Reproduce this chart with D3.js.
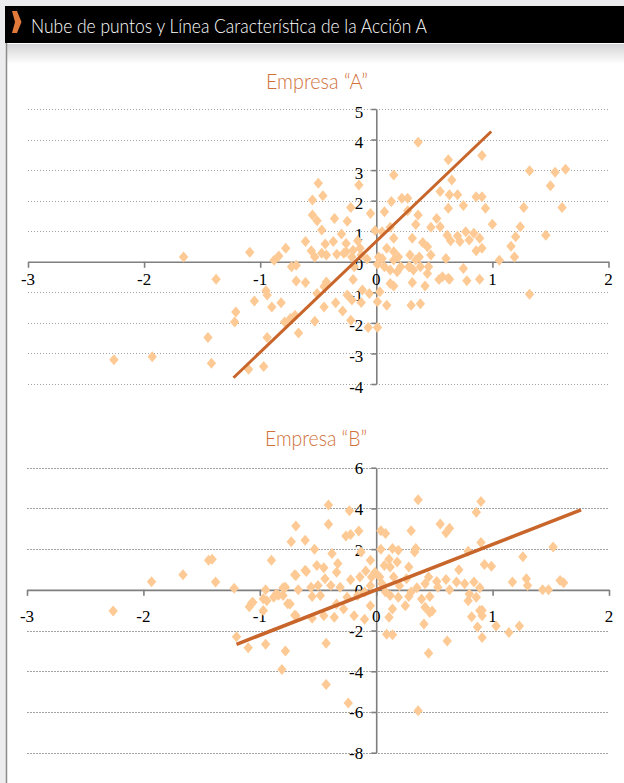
<!DOCTYPE html>
<meta charset="utf-8">
<html>
<head>
<script src="https://d3js.org/d3.v7.min.js"></script>
<style>
  body { margin: 0; background: #ececee; }
</style>
</head>
<body>
<div id="viz"></div>
<script>
// x ticks are shared by both charts
const xTicks = [-3, -2, -1, 0, 1, 2];
const yTicksA = [-4, -3, -2, -1, 0, 1, 2, 3, 4, 5];
const yTicksB = [-8, -6, -4, -2, 0, 2, 4, 6];

// trend lines: [slope, intercept, xStart, xEnd]
const trendA = [3.63, 0.67, -1.23, 0.99];
const trendB = [2.23, 0.0, -1.20, 1.76];

// Empresa "A" (market return, stock return)
const puntosA = [
  [0.36,3.91],[0.62,3.34],[0.91,3.48],[0.15,2.84],[1.32,2.98],[1.54,2.93],[1.63,3.03],[0.65,2.68],
  [-0.15,2.51],[-0.50,2.57],[1.50,2.49],[-0.55,2.02],[-0.46,2.16],[0.13,1.97],[0.22,2.08],[0.27,2.08],
  [0.55,2.30],[0.63,2.19],[0.70,2.19],[0.86,2.13],[0.91,2.13],[1.60,1.78],[-0.22,1.78],[-0.05,1.58],
  [0.07,1.64],[0.62,1.75],[0.75,1.84],[0.94,1.75],[1.27,1.78],[-0.55,1.53],[-0.51,1.34],[-0.36,1.42],
  [-0.25,1.33],[0.36,1.53],[0.27,1.67],[0.52,1.42],[0.55,1.15],[0.47,1.13],[1.00,1.23],[1.24,1.15],
  [0.34,1.22],[-0.47,1.04],[-0.30,0.91],[-0.01,1.02],[0.05,0.98],[0.12,1.13],[0.61,0.87],[0.70,0.84],
  [0.77,0.98],[0.84,0.93],[0.89,0.77],[1.20,0.82],[1.46,0.87],[-0.61,0.66],[-0.56,0.36],[-0.44,0.58],
  [-0.37,0.66],[-0.26,0.60],[-0.16,0.69],[0.15,0.77],[0.31,0.77],[0.40,0.63],[0.44,0.49],[0.64,0.69],
  [0.72,0.66],[0.80,0.71],[1.16,0.51],[-0.78,0.44],[-1.09,0.31],[-1.66,0.16],[-0.84,0.19],[-0.88,0.05],
  [-0.53,0.16],[-0.43,0.22],[-0.34,0.25],[-0.26,0.33],[-0.20,0.38],[-0.14,0.44],[0.09,0.44],[0.15,0.33],
  [0.19,0.16],[0.29,0.22],[0.37,0.16],[0.47,0.22],[0.86,0.36],[0.91,0.44],[1.19,0.16],[1.06,0.05],
  [0.60,0.11],[0.02,0.16],[-0.21,0.16],[-0.73,-0.16],[-0.69,-0.11],[-0.19,-0.16],[0.01,-0.08],[0.07,-0.16],
  [0.12,-0.27],[0.18,-0.33],[0.28,-0.16],[0.32,-0.27],[0.38,-0.16],[0.45,-0.16],[0.75,-0.22],[-1.38,-0.57],
  [-0.69,-0.63],[-0.61,-0.68],[-0.43,-0.66],[-0.20,-0.58],[0.12,-0.71],[0.31,-0.68],[0.42,-0.79],[0.54,-0.58],
  [0.63,-0.57],[0.78,-0.62],[0.89,-0.57],[0.15,-0.79],[1.32,-1.06],[-0.95,-0.95],[-0.94,-1.09],[-1.05,-1.28],
  [-0.90,-1.48],[-0.82,-1.34],[-0.51,-1.04],[-0.45,-1.48],[-0.35,-1.34],[-0.29,-1.61],[-0.25,-1.09],[-0.13,-1.33],
  [-0.06,-1.04],[0.01,-1.31],[0.09,-1.42],[0.03,-0.98],[0.38,-1.37],[0.30,-1.42],[-1.21,-1.64],[-1.22,-1.97],
  [-0.79,-1.97],[-0.53,-1.95],[-0.22,-1.91],[-0.07,-2.15],[0.01,-2.15],[-0.74,-1.86],[-0.67,-2.33],[-1.45,-2.48],
  [-0.94,-2.48],[-0.70,-1.75],[-1.42,-3.32],[-2.26,-3.21],[-1.93,-3.11],[-1.10,-3.52],[-0.97,-3.43],
  [0.15,0.06],[0.21,-0.16],[0.05,0.11],[0.34,0.06],[0.29,-0.16],[0.57,-0.49],[0.62,-0.54],[0.44,-0.38],
  [-0.47,0.28],[-0.28,0.28],[-0.13,0.22],[-0.08,0.09],[-0.45,-0.81],[-0.21,-1.25],[-0.12,-0.92]
];

// Empresa "B"
const puntosB = [
  [0.36,4.42],[0.90,4.34],[-0.41,4.17],[-0.23,3.89],[0.86,3.81],[-0.69,3.14],[-0.41,3.22],[0.55,3.23],
  [0.63,3.02],[0.60,2.81],[0.30,2.90],[-0.15,2.89],[0.04,2.90],[0.08,2.77],[-0.26,2.64],[-0.22,2.72],
  [-0.73,2.36],[-0.61,2.44],[0.90,2.33],[1.52,2.11],[-0.53,2.00],[0.04,2.00],[0.14,2.03],[0.19,1.95],
  [0.34,2.03],[0.33,1.86],[0.79,1.90],[-0.38,1.78],[-0.13,1.86],[-0.05,1.45],[-1.44,1.45],[-1.41,1.50],
  [-0.90,1.45],[0.11,1.50],[0.18,1.37],[1.26,1.62],[-0.33,1.29],[-0.51,1.20],[-0.45,1.09],[0.07,1.20],
  [0.12,1.12],[0.28,1.12],[0.93,1.24],[0.99,1.16],[0.71,0.99],[-0.61,0.96],[-0.34,0.87],[-0.09,0.92],
  [-0.01,0.87],[-0.69,0.71],[-0.44,0.54],[-0.22,0.50],[-0.14,0.63],[-0.04,0.63],[0.03,0.63],[0.15,0.63],
  [0.26,0.54],[0.45,0.63],[0.52,0.41],[0.60,0.51],[-1.38,0.38],[1.17,0.38],[1.29,0.54],[1.58,0.46],
  [1.61,0.35],[1.30,0.21],[0.69,0.38],[0.76,0.30],[0.84,0.38],[-1.22,0.08],[-0.95,0.00],[-0.78,0.13],
  [-0.67,0.00],[-0.56,0.13],[-0.50,0.21],[-0.39,0.21],[-0.31,0.13],[0.35,0.10],[0.42,0.30],[0.53,0.13],
  [0.63,0.00],[0.89,0.10],[1.43,0.00],[1.48,0.00],[-0.86,-0.20],[-0.80,-0.28],[-0.55,-0.33],[-0.48,-0.28],
  [-0.25,-0.36],[-0.16,-0.28],[0.12,-0.28],[0.19,-0.36],[0.28,-0.33],[0.39,-0.45],[0.46,-0.33],[0.80,-0.20],
  [0.86,-0.36],[-1.06,-0.61],[-1.09,-0.83],[-0.74,-0.69],[-0.94,-0.53],[-0.34,-0.69],[-0.28,-0.94],[-0.05,-0.78],
  [0.25,-0.78],[0.79,-0.53],[0.42,-0.86],[0.46,-1.11],[0.14,-0.94],[-0.97,-1.02],[-0.69,-1.27],[-0.45,-1.27],
  [-0.36,-1.35],[-0.19,-1.27],[0.11,-1.35],[-0.10,-1.44],[-0.55,-1.40],[0.82,-1.32],[0.89,-1.02],[0.91,-1.27],
  [1.03,-1.77],[1.23,-1.77],[1.14,-2.10],[0.41,-1.68],[0.87,-1.82],[0.91,-2.34],[0.09,-2.18],[0.14,-2.21],
  [-1.20,-2.31],[-1.10,-2.84],[-0.95,-2.67],[-0.78,-3.00],[-0.43,-2.62],[0.61,-2.51],[0.45,-3.12],[-0.81,-3.91],
  [-0.43,-4.65],[-0.24,-5.56],[0.36,-5.94],
  [-1.93,0.40],[-1.66,0.74],[-2.26,-1.04],[-0.70,0.74],[-0.60,0.90],[-0.80,0.10],[-1.07,-0.65],[-0.97,-0.44],
  [-0.88,-0.36],[-0.84,-0.27],[-0.76,-0.68],[-0.70,-1.25],[0.91,-1.00],[0.48,-1.04],
  [0.20,0.20],[0.05,0.30],[-0.05,0.20],[0.30,-0.10],[0.08,-0.10],[-0.10,-0.10]
];

const width = 624, height = 783;
const svg = d3.select('#viz').append('svg')
  .attr('width', width)
  .attr('height', height)
  .style('display', 'block');

// page background + panel
svg.append('rect').attr('width', width).attr('height', height).attr('fill', '#ececee');
svg.append('rect').attr('x', 6).attr('y', 43).attr('width', width - 6).attr('height', height - 43).attr('fill', '#fff');
let grad = svg.append('defs').append('linearGradient')
  .attr('id', 'shade').attr('x1', 0).attr('x2', 0).attr('y1', 0).attr('y2', 1);
grad.append('stop').attr('offset', 0).attr('stop-color', '#d4d4d6');
grad.append('stop').attr('offset', 1).attr('stop-color', '#fff');
svg.append('rect').attr('x', 7).attr('y', 44).attr('width', width - 7).attr('height', 20).attr('fill', 'url(#shade)');
svg.append('line').attr('x1', 6.5).attr('x2', 6.5).attr('y1', 43).attr('y2', height)
  .attr('stroke', '#8c8c8c').attr('stroke-width', 1.5);

// header bar
svg.append('rect').attr('x', 5).attr('y', 6).attr('width', width - 5).attr('height', 37).attr('fill', '#000');
svg.append('path')
  .attr('d', 'M12,11 L17,11 L21.5,22 L17,33 L12,33 L15,22 Z')
  .attr('fill', '#e0793a');
svg.append('text')
  .attr('x', 31).attr('y', 33)
  .attr('fill', '#fff')
  .attr('font-family', 'Lato, "Open Sans", sans-serif')
  .attr('font-weight', 300)
  .attr('font-size', 19)
  .attr('textLength', 396)
  .attr('lengthAdjust', 'spacingAndGlyphs')
  .text('Nube de puntos y Línea Característica de la Acción A');

const labelFont = 'Liberation Serif';

function drawChart(cfg) {
  let x = d3.scaleLinear().domain([-3, 2]).range(cfg.xRange);
  let y = d3.scaleLinear().domain(cfg.yDomain).range(cfg.yRange);
  let g = svg.append('g');

  g.append('text')
    .attr('x', cfg.titleX).attr('y', cfg.titleY)
    .attr('text-anchor', 'middle')
    .attr('fill', '#d0703a')
    .attr('font-family', 'Lato, "Open Sans", sans-serif')
    .attr('font-weight', 300)
    .attr('font-size', 21)
    .attr('textLength', 102)
    .attr('lengthAdjust', 'spacingAndGlyphs')
    .text(cfg.title);

  // dotted gridlines
  g.selectAll('.grid')
    .data(cfg.yTicks.filter(d => d !== 0))
    .join('line')
    .attr('class', 'grid')
    .attr('x1', x(-3)).attr('x2', x(2))
    .attr('y1', d => Math.round(y(d)) + 0.5).attr('y2', d => Math.round(y(d)) + 0.5)
    .attr('stroke', '#a3a3a3')
    .attr('stroke-dasharray', cfg.dash);

  // axes crossing at 0 (lines + ticks from d3, labels placed below)
  let xAxis = g.append('g')
    .attr('transform', `translate(0,${y(0)})`)
    .call(d3.axisBottom(x).tickValues(xTicks).tickSizeInner(6).tickSizeOuter(0).tickFormat(''));
  let yAxis = g.append('g')
    .attr('transform', `translate(${x(0)},0)`)
    .call(d3.axisLeft(y).tickValues(cfg.yTicks).tickSizeInner(5).tickSizeOuter(0).tickFormat(''));

  [xAxis, yAxis].forEach(a => {
    a.select('.domain').attr('stroke', '#7f7f7f').attr('stroke-width', 1.6);
    a.selectAll('.tick line').attr('stroke', '#7f7f7f').attr('stroke-width', 1.6);
  });

  // tick labels
  g.selectAll('.xlab')
    .data(xTicks)
    .join('text')
    .attr('class', 'xlab')
    .attr('x', d => x(d))
    .attr('y', y(0) + cfg.xLabelDy)
    .attr('text-anchor', 'middle')
    .attr('font-family', labelFont)
    .attr('font-size', 17)
    .attr('fill', '#000')
    .text(d => String(d));
  g.selectAll('.ylab')
    .data(cfg.yTicks)
    .join('text')
    .attr('class', 'ylab')
    .attr('x', x(0) - 13)
    .attr('y', d => y(d) + cfg.yLabelDy)
    .attr('text-anchor', 'end')
    .attr('font-family', labelFont)
    .attr('font-size', 17)
    .attr('fill', '#000')
    .text(d => String(d));

  // diamonds
  g.selectAll('.pt')
    .data(cfg.points)
    .join('path')
    .attr('class', 'pt')
    .attr('d', 'M0,-5.5L4.7,0L0,5.5L-4.7,0Z')
    .attr('transform', d => `translate(${x(d[0])},${y(d[1])})`)
    .attr('fill', '#fdca95');

  // trend line
  let t = cfg.trend;
  g.append('line')
    .attr('x1', x(t[2])).attr('y1', y(t[0] * t[2] + t[1]))
    .attr('x2', x(t[3])).attr('y2', y(t[0] * t[3] + t[1]))
    .attr('stroke', '#c8652b')
    .attr('stroke-width', cfg.lineW);
}

drawChart({
  title: 'Empresa “A”', titleX: 317, titleY: 89,
  points: puntosA, trend: trendA, yTicks: yTicksA,
  xRange: [28, 608.5], yDomain: [-4, 5], yRange: [384, 109],
  dash: '1,2', xLabelDy: 23, yLabelDy: 8.5, lineW: 3
});

drawChart({
  title: 'Empresa “B”', titleX: 316, titleY: 446,
  points: puntosB, trend: trendB, yTicks: yTicksB,
  xRange: [27, 609], yDomain: [-8, 6], yRange: [752.7, 467.7],
  dash: '2,1', xLabelDy: 32, yLabelDy: 6.5, lineW: 3.5
});
</script>
</body>
</html>
